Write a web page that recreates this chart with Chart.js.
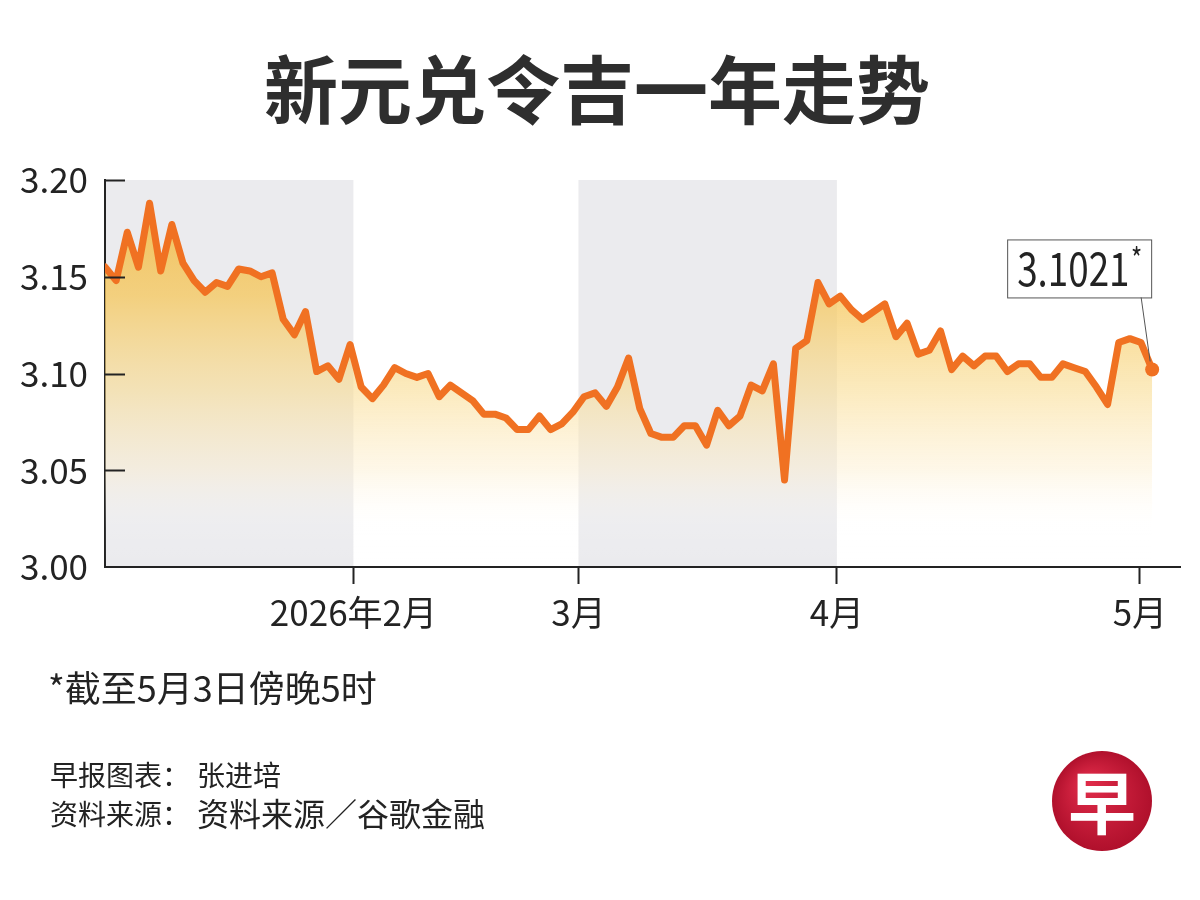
<!DOCTYPE html>
<html>
<head>
<meta charset="utf-8">
<script src="https://cdn.jsdelivr.net/npm/chart.js@4.4.1/dist/chart.umd.min.js"></script>
<style>
  html, body { margin: 0; padding: 0; background: #fff; }
  canvas { display: block; }
</style>
</head>
<body>
<canvas id="myChart" width="1200" height="900"></canvas>
<script>
// SGD/MYR daily closes, Jan - early May 2026
const rates = [
  3.155, 3.148, 3.173, 3.155, 3.188, 3.153, 3.177, 3.157, 3.148, 3.142,
  3.147, 3.145, 3.154, 3.153, 3.150, 3.152, 3.128, 3.120, 3.132, 3.101,
  3.104, 3.097, 3.115, 3.093, 3.087, 3.094, 3.103, 3.100, 3.098, 3.100,
  3.088, 3.094, 3.090, 3.086, 3.079, 3.079, 3.077, 3.071, 3.071, 3.078,
  3.071, 3.074, 3.080, 3.088, 3.090, 3.083, 3.093, 3.108, 3.082, 3.069,
  3.067, 3.067, 3.073, 3.073, 3.063, 3.081, 3.073, 3.078, 3.094, 3.091,
  3.105, 3.045, 3.113, 3.117, 3.147, 3.136, 3.140, 3.133, 3.128, 3.132,
  3.136, 3.119, 3.126, 3.110, 3.112, 3.122, 3.102, 3.109, 3.104, 3.109,
  3.109, 3.101, 3.105, 3.105, 3.098, 3.098, 3.105, 3.103, 3.101, 3.093,
  3.084, 3.116, 3.118, 3.116, 3.1021,
];

// where each month starts, in trading-day units
const monthTicks = [22.3, 42.5, 65.7, 92.9];
const monthLabels = ["2026年2月", "3月", "4月", "5月"];
// January and March get the grey background
const shadedMonths = [
  [0, 22.3],
  [42.5, 65.7],
];
const yTicks = [3.0, 3.05, 3.1, 3.15, 3.2];

const title = "新元兑令吉一年走势";
const note = "*截至5月3日傍晚5时";
const credit = ["早报图表：", "张进培"];
const source = ["资料来源：", "资料来源／谷歌金融"];

const FONT = "'Noto Sans CJK SC', 'Noto Sans', sans-serif";
const ORANGE = "#f07122";
const INK = "#232323";

const points = rates.map((v, i) => ({ x: i, y: v }));
const last = points.length - 1;

const bands = {
  id: "bands",
  beforeDraw(chart) {
    const { ctx, chartArea, scales } = chart;
    ctx.save();
    ctx.fillStyle = "#ebebee";
    shadedMonths.forEach(([a, b]) => {
      const x1 = scales.x.getPixelForValue(a);
      const x2 = scales.x.getPixelForValue(b);
      ctx.fillRect(x1, chartArea.top, x2 - x1, chartArea.bottom - chartArea.top);
    });
    ctx.restore();
  },
};

const decor = {
  id: "decor",
  afterDraw(chart) {
    const { ctx, chartArea, scales } = chart;
    ctx.save();

    // inward ticks on the y axis
    ctx.strokeStyle = INK;
    ctx.lineWidth = 2;
    yTicks.slice(1).forEach((v) => {
      const y = Math.round(scales.y.getPixelForValue(v)) + 0.5;
      ctx.beginPath();
      ctx.moveTo(chartArea.left, y);
      ctx.lineTo(chartArea.left + 20, y);
      ctx.stroke();
    });

    // latest value callout
    const dot = chart.getDatasetMeta(0).data[last];
    const boxR = dot.x - 1;
    const boxB = dot.y - 72;
    const boxW = 144;
    const boxH = 58;
    ctx.fillStyle = "#fff";
    ctx.fillRect(boxR - boxW, boxB - boxH, boxW, boxH);
    ctx.strokeStyle = "#555";
    ctx.lineWidth = 1;
    ctx.strokeRect(boxR - boxW + 0.5, boxB - boxH + 0.5, boxW, boxH);
    ctx.beginPath();
    ctx.moveTo(dot.x - 11, boxB);
    ctx.lineTo(dot.x - 2, dot.y - 8);
    ctx.stroke();

    ctx.fillStyle = INK;
    ctx.textBaseline = "alphabetic";
    ctx.textAlign = "left";
    ctx.save();
    ctx.translate(boxR - boxW + 10, boxB - 11);
    ctx.scale(0.8, 1);
    ctx.font = "46px " + FONT;
    const txt = rates[last].toFixed(4);
    ctx.fillText(txt, 0, 0);
    const w = ctx.measureText(txt).width;
    ctx.font = "30px " + FONT;
    ctx.fillText("*", w + 2, -16);
    ctx.restore();

    // title
    ctx.fillStyle = "#2e2e2e";
    ctx.font = "bold 74px " + FONT;
    ctx.textAlign = "center";
    ctx.textBaseline = "middle";
    ctx.fillText(title, 597, 90);

    // footnotes
    ctx.textAlign = "left";
    ctx.fillStyle = INK;
    ctx.font = "36px " + FONT;
    ctx.fillText(note, 48, 688);
    ctx.font = "28px " + FONT;
    ctx.fillText(credit[0], 50, 775);
    ctx.fillText(credit[1], 197, 775);
    ctx.fillText(source[0], 50, 814);
    ctx.font = "32px " + FONT;
    ctx.fillText(source[1], 197, 814);

    // logo
    const cx = 1102, cy = 801, r = 50;
    const g = ctx.createRadialGradient(cx - 15, cy - 18, 5, cx, cy, r);
    g.addColorStop(0, "#de2a48");
    g.addColorStop(1, "#b0102c");
    ctx.fillStyle = g;
    ctx.beginPath();
    ctx.arc(cx, cy, r, 0, Math.PI * 2);
    ctx.fill();
    ctx.fillStyle = "#fff";
    ctx.font = "bold 68px " + FONT;
    ctx.textAlign = "center";
    ctx.fillText("早", cx, cy + 2);

    ctx.restore();
  },
};

const ctx = document.getElementById("myChart");

new Chart(ctx, {
  type: "line",
  data: {
    datasets: [
      {
        label: "SGD/MYR",
        data: points,
        borderColor: ORANGE,
        borderWidth: 7,
        borderJoinStyle: "round",
        borderCapStyle: "round",
        tension: 0,
        fill: "start",
        backgroundColor: (c) => {
          const area = c.chart.chartArea;
          if (!area) return "rgba(245,200,95,0.6)";
          const g = c.chart.ctx.createLinearGradient(0, area.top, 0, area.bottom);
          g.addColorStop(0, "rgba(242,182,62,0.9)");
          g.addColorStop(0.3, "rgba(245,200,95,0.78)");
          g.addColorStop(0.55, "rgba(249,220,145,0.58)");
          g.addColorStop(0.75, "rgba(253,238,205,0.45)");
          g.addColorStop(0.9, "rgba(255,255,255,0.1)");
          g.addColorStop(1, "rgba(255,255,255,0)");
          return g;
        },
        pointRadius: (c) => (c.dataIndex === last ? 7 : 0),
        pointBackgroundColor: ORANGE,
        pointBorderWidth: 0,
        pointHoverRadius: 0,
      },
    ],
  },
  options: {
    responsive: false,
    animation: false,
    devicePixelRatio: 1,
    layout: { padding: { top: 180, left: 0, right: 20, bottom: 0 } },
    plugins: {
      legend: { display: false },
      tooltip: { enabled: false },
    },
    scales: {
      x: {
        type: "linear",
        min: 0,
        max: 96.5,
        afterFit: (s) => {
          s.height = 333;
        },
        afterBuildTicks: (s) => {
          s.ticks = monthTicks.map((v) => ({ value: v }));
        },
        ticks: {
          autoSkip: false,
          maxRotation: 0,
          padding: 8,
          color: INK,
          font: { family: FONT, size: 35 },
          callback: (v) => monthLabels[monthTicks.indexOf(v)],
        },
        grid: {
          display: true,
          drawOnChartArea: false,
          drawTicks: true,
          tickLength: 17,
          tickWidth: 2,
          tickColor: INK,
        },
        border: { display: true, color: INK, width: 2 },
      },
      y: {
        min: 3.0,
        max: 3.2,
        afterFit: (s) => {
          s.width = 105;
        },
        afterBuildTicks: (s) => {
          s.ticks = yTicks.map((v) => ({ value: v }));
        },
        ticks: {
          padding: 17,
          color: INK,
          font: { family: FONT, size: 35 },
          callback: (v) => v.toFixed(2),
        },
        grid: { display: true, drawOnChartArea: false, drawTicks: false },
        border: { display: true, color: INK, width: 2 },
      },
    },
  },
  plugins: [bands, decor],
});
</script>
</body>
</html>
